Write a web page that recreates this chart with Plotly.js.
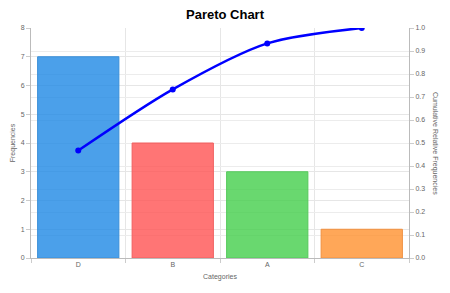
<!DOCTYPE html>
<html>
<head>
<meta charset="utf-8">
<script src="https://cdn.plot.ly/plotly-3.0.1.min.js"></script>
<style>html,body{margin:0;padding:0;background:#fff;}#chart{width:450px;height:293px;}</style>
</head>
<body>
<div id="chart"></div>
<script>
const categories = ["D", "B", "A", "C"];
const frequencies = [7, 4, 3, 1];
const cumulativeRelative = [0.467, 0.733, 0.933, 1.0];
const barColors = ["rgba(30,136,229,0.8)", "rgba(255,82,82,0.8)", "rgba(67,206,75,0.8)", "rgba(255,145,46,0.8)"];
const barBorders = ["#3a8fd8", "#f06060", "#55c95c", "#f09040"];
const rightTitle = "Cumulative Relative Frequencies";

const font = "Liberation Sans, Arial, sans-serif";

const traces = [
  {
    type: "bar",
    x: categories,
    y: frequencies,
    width: 0.86,
    marker: {color: barColors, line: {color: barBorders, width: 1}},
    hoverinfo: "x+y",
    yaxis: "y"
  },
  {
    type: "scatter",
    mode: "lines+markers",
    x: categories,
    y: cumulativeRelative,
    line: {color: "#0000ff", width: 2.5, shape: "spline", smoothing: 0.8},
    marker: {color: "#0000ff", size: 6},
    yaxis: "y2"
  }
];

const layout = {
  width: 450,
  height: 293,
  margin: {l: 31, r: 41, t: 28, b: 35},
  paper_bgcolor: "#fff",
  plot_bgcolor: "#fff",
  showlegend: false,
  font: {family: font, size: 7, color: "#666"},
  title: {text: "<b>Pareto Chart</b>", font: {family: font, size: 13, color: "#000"}, x: 0.5, xanchor: "center", y: 0.952, yanchor: "middle"},
  xaxis: {
    type: "category",
    tickson: "boundaries",
    showgrid: true,
    gridcolor: "#e6e6e6",
    ticks: "outside",
    ticklen: 4,
    tickcolor: "#ccc",
    showline: true,
    linecolor: "#bbb",
    tickfont: {size: 7, color: "#666"},
    title: {text: "Categories", font: {size: 7, color: "#666"}, standoff: 6},
    range: [-0.5, 3.5]
  },
  yaxis: {
    range: [0, 8],
    dtick: 1,
    showgrid: true,
    gridcolor: "#e6e6e6",
    zeroline: false,
    showline: true,
    linecolor: "#bbb",
    ticks: "outside",
    ticklen: 4,
    tickcolor: "#ccc",
    tickfont: {size: 7, color: "#666"},
    title: {text: "Frequencies", font: {size: 7, color: "#666"}, standoff: 4}
  },
  yaxis2: {
    overlaying: "y",
    side: "right",
    range: [0, 1],
    dtick: 0.1,
    tickformat: ".1f",
    showgrid: true,
    gridcolor: "#ececec",
    zeroline: false,
    showline: true,
    linecolor: "#bbb",
    ticks: "outside",
    ticklen: 4,
    tickcolor: "#ccc",
    tickfont: {size: 7, color: "#666"}
  },
  annotations: [{
    text: rightTitle,
    xref: "paper", yref: "paper",
    x: 1, y: 0.5,
    xanchor: "center", yanchor: "middle",
    xshift: 26,
    textangle: 90,
    showarrow: false,
    font: {size: 7, color: "#666"}
  }]
};

Plotly.newPlot("chart", traces, layout, {displayModeBar: false, staticPlot: true});
</script>
</body>
</html>
